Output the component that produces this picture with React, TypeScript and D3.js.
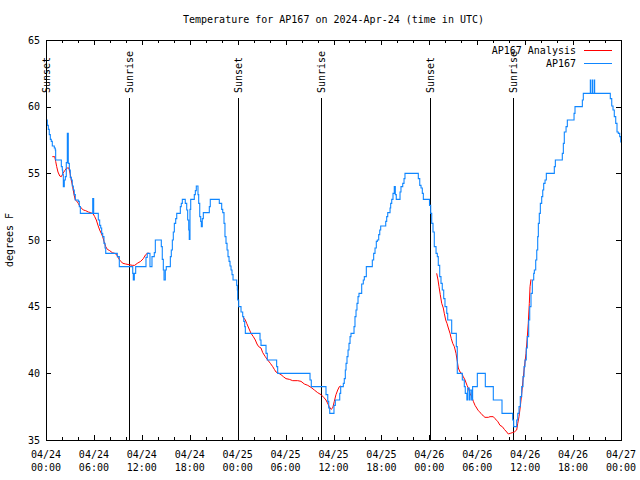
import React from "react";
import * as d3 from "d3";

const startMs = Date.UTC(2024, 3, 24, 0, 0);
const spanHours = 72;

const titleText = "Temperature for AP167 on 2024-Apr-24 (time in UTC)";
const yAxisLabel = "degrees F";
const legendNames = ["AP167 Analysis", "AP167"];
const seriesColors = ["#ff0000", "#0f86ff"];
const yTicks = [35, 40, 45, 50, 55, 60, 65];

const eventNames = ["Sunset", "Sunrise", "Sunset", "Sunrise", "Sunset", "Sunrise"];
const eventHours = [0.03, 10.4, 24.04, 34.44, 48.08, 58.48];

// observed station temperature: [hours since 04/24 00:00 UTC, degF]
const observed: [number, number][] = [
  [0, 59.0], [0.16, 58.6], [0.29, 58.3], [0.41, 57.9], [0.54, 57.55], [0.66, 57.4], [0.79, 57.05],
  [1.04, 56.9], [1.16, 56.75], [1.21, 56.0], [1.92, 55.5], [2.04, 55.25], [2.09, 54.9], [2.17, 54.0],
  [2.29, 54.5], [2.42, 54.75], [2.54, 55.8], [2.67, 58.0], [2.79, 55.75], [2.92, 55.25], [3.04, 54.7],
  [3.17, 54.5], [3.29, 54.05], [3.42, 53.75], [3.54, 53.4], [3.67, 53.0], [4.04, 52.9], [4.17, 52.5],
  [4.3, 52.0], [5.85, 53.1], [5.97, 52.0], [6.55, 51.5], [6.72, 51.1], [6.85, 50.9], [6.97, 50.5],
  [7.1, 50.25], [7.26, 49.75], [7.39, 49.4], [7.48, 49.0], [8.93, 48.75], [9.18, 48.0], [10.86, 47.5],
  [10.93, 47.0], [11.06, 47.5], [11.23, 48.0], [12.52, 48.7], [12.68, 49.0], [13.02, 48.0],
  [13.27, 48.75], [13.56, 49.05], [13.69, 50.0], [14.44, 49.5], [14.56, 48.55], [14.69, 47.75],
  [14.78, 47.0], [14.94, 47.75], [15.06, 48.0], [15.57, 48.75], [15.69, 49.25], [15.82, 50.0], [15.94, 50.6],
  [16.07, 51.25], [16.24, 51.6], [16.37, 52.0], [16.82, 52.5], [16.94, 52.75], [17.07, 53.05], [17.44, 52.75],
  [17.62, 52.25], [17.74, 51.5], [17.87, 50.75], [17.94, 50.05], [18.03, 52.3], [18.12, 53.05], [18.57, 53.4],
  [18.7, 53.7], [18.82, 54.05], [19.03, 53.4], [19.12, 52.75], [19.25, 51.75], [19.37, 51.4], [19.45, 51.0],
  [19.57, 51.6], [19.7, 52.05], [20.45, 52.5], [20.57, 53.05], [21.7, 52.75], [22.0, 52.3], [22.13, 52.05],
  [22.29, 51.25], [22.41, 50.25], [22.54, 49.75], [22.67, 49.25], [22.79, 48.75], [22.92, 48.4], [23.04, 48.05],
  [23.17, 47.75], [23.29, 47.4], [23.42, 47.0], [23.88, 46.6], [23.96, 46.25], [24.0, 45.5], [24.13, 45.0],
  [24.42, 44.6], [24.63, 44.25], [24.76, 43.9], [24.88, 43.5], [24.96, 43.0], [26.8, 42.5], [26.92, 42.1],
  [27.55, 41.5], [27.71, 41.0], [28.88, 40.5], [29.01, 40.0], [33.06, 39.5], [33.22, 39.0], [35.06, 38.4],
  [35.28, 37.9], [35.4, 37.4], [35.53, 37.0], [36.06, 37.6], [36.23, 38.0], [36.78, 38.5], [36.9, 39.0],
  [37.23, 39.25], [37.35, 39.6], [37.48, 40.25], [37.57, 40.75], [37.69, 41.25], [37.82, 41.75], [37.94, 42.25],
  [38.07, 42.75], [38.19, 43.0], [38.57, 43.5], [38.69, 44.25], [38.82, 44.75], [38.94, 45.25], [39.07, 45.75],
  [39.19, 46.0], [39.53, 46.7], [39.73, 47.0], [39.86, 47.25], [40.11, 48.0], [40.86, 48.5], [41.03, 49.0],
  [41.2, 49.4], [41.36, 49.9], [41.49, 50.0], [41.66, 50.4], [41.79, 50.75], [41.91, 51.05], [42.54, 51.4],
  [42.66, 51.75], [42.79, 52.05], [43.08, 52.4], [43.16, 52.75], [43.29, 53.05], [43.45, 53.5], [43.61, 54.0],
  [43.74, 53.4], [43.86, 53.05], [44.33, 53.6], [44.45, 54.0], [44.67, 54.25], [44.83, 54.6], [44.95, 55.0],
  [46.62, 54.6], [46.8, 54.1], [46.96, 53.9], [47.12, 53.5], [47.25, 53.05], [48.02, 52.6], [48.17, 52.0],
  [48.3, 51.25], [48.46, 50.6], [48.62, 49.5], [48.84, 49.0], [49.0, 48.75], [49.12, 48.1], [49.3, 47.25],
  [49.46, 46.75], [49.62, 46.25], [49.8, 45.6], [49.96, 45.0], [50.18, 44.5], [50.3, 44.0], [50.8, 43.0],
  [51.38, 42.0], [51.5, 40.0], [52.13, 39.5], [52.38, 39.0], [52.5, 38.5], [52.7, 38.0], [52.8, 38.9],
  [53.0, 38.0], [53.1, 38.75], [53.3, 38.0], [53.42, 39.0], [54.01, 40.0], [55.01, 39.0], [56.01, 38.0],
  [57.1, 37.0], [58.44, 36.5], [58.56, 36.0], [58.94, 36.5], [59.07, 37.0], [59.23, 37.5], [59.39, 38.25],
  [59.57, 39.0], [59.73, 39.75], [59.86, 40.5], [59.98, 41.0], [60.14, 41.9], [60.27, 42.75], [60.44, 44.0],
  [60.57, 45.0], [60.73, 46.0], [60.9, 47.0], [61.07, 47.5], [61.15, 47.75], [61.32, 48.5], [61.45, 49.25],
  [61.57, 50.25], [61.65, 51.25], [61.77, 52.0], [61.9, 52.75], [62.07, 53.25], [62.2, 53.75], [62.32, 54.25],
  [62.49, 54.5], [62.65, 55.0], [63.65, 55.5], [63.78, 56.0], [64.65, 56.5], [64.78, 57.25], [64.9, 58.1],
  [65.12, 58.5], [65.28, 59.0], [66.12, 59.5], [66.24, 60.0], [67.16, 60.5], [67.28, 61.0], [68.16, 62.0],
  [68.2, 61.0], [68.41, 62.0], [68.45, 61.0], [68.66, 62.0], [68.7, 61.0], [70.66, 60.6], [70.84, 60.05],
  [71.0, 59.75], [71.16, 59.25], [71.34, 58.75], [71.5, 58.1], [71.66, 58.0], [71.84, 57.75], [71.97, 57.4],
  [72.0, 57.3],
];

// analysis temperature, three overnight segments
const analysisNight1: [number, number][] = [
  [0.79, 56.25], [1.09, 56.25], [1.21, 55.9], [1.34, 55.5], [1.5, 55.1], [1.72, 54.8], [1.92, 54.75],
  [2.13, 55.0], [2.34, 55.2], [2.59, 55.4], [2.88, 55.4], [3.01, 55.0], [3.17, 54.5], [3.34, 54.0],
  [3.51, 53.4], [3.67, 53.0], [3.88, 52.9], [4.04, 52.75], [4.22, 52.55], [4.42, 52.4], [4.67, 52.25],
  [4.97, 52.2], [5.3, 52.1], [5.6, 52.05], [5.92, 51.95], [6.1, 51.75], [6.3, 51.5], [6.51, 51.1],
  [6.72, 50.75], [6.92, 50.5], [7.1, 50.25], [7.26, 49.9], [7.48, 49.5], [7.68, 49.3], [7.98, 49.2],
  [8.3, 49.05], [8.6, 49.0], [8.85, 48.9], [9.1, 48.6], [9.35, 48.4], [9.64, 48.25], [9.98, 48.2],
  [10.39, 48.15], [10.81, 48.1], [11.11, 48.1], [11.43, 48.25], [11.86, 48.4], [12.18, 48.6], [12.48, 48.9],
  [12.81, 49.05],
];
const analysisNight2: [number, number][] = [
  [24.71, 44.2], [24.96, 44.0], [25.13, 43.75], [25.38, 43.4], [25.67, 43.0], [25.96, 42.75], [26.21, 42.5],
  [26.42, 42.2], [26.63, 42.0], [26.92, 41.9], [27.14, 41.55], [27.46, 41.25], [27.76, 41.0], [28.09, 40.75],
  [28.39, 40.5], [28.59, 40.3], [28.8, 40.1], [29.14, 40.0], [29.43, 39.9], [29.72, 39.75], [30.05, 39.6],
  [30.47, 39.55], [30.89, 39.45], [31.52, 39.45], [31.93, 39.4], [32.35, 39.2], [32.77, 39.1], [33.18, 38.95],
  [33.6, 38.75], [34.02, 38.55], [34.44, 38.4], [34.77, 38.2], [35.06, 38.0], [35.31, 37.7], [35.47, 37.5],
  [35.69, 37.3], [35.9, 37.4], [36.1, 37.9], [36.31, 38.4], [36.53, 38.75], [36.73, 39.0], [36.9, 39.05],
];
const analysisNight3: [number, number][] = [
  [48.92, 47.5], [49.09, 47.0], [49.21, 46.5], [49.37, 45.9], [49.55, 45.25], [49.75, 44.9], [49.87, 44.5],
  [50.05, 44.0], [50.21, 43.75], [50.38, 43.4], [50.59, 43.0], [50.75, 42.6], [50.93, 42.25], [51.13, 42.0],
  [51.34, 41.5], [51.5, 40.9], [51.63, 40.4], [51.84, 40.1], [52.05, 40.0], [52.25, 39.75], [52.47, 39.5],
  [52.72, 39.1], [52.88, 38.9], [53.09, 38.5], [53.31, 38.25], [53.51, 37.9], [53.72, 37.6], [53.93, 37.4],
  [54.13, 37.2], [54.47, 37.0], [54.76, 36.8], [54.97, 36.7], [55.39, 36.7], [55.6, 36.75], [56.01, 36.75],
  [56.22, 36.6], [56.56, 36.4], [56.85, 36.1], [57.14, 36.0], [57.39, 35.8], [57.69, 35.6], [57.89, 35.45],
  [58.14, 35.5], [58.39, 35.55], [58.64, 35.6], [58.94, 35.75], [59.07, 36.25], [59.23, 36.75], [59.39, 37.5],
  [59.57, 38.5], [59.73, 39.5], [59.89, 40.4], [60.11, 41.5], [60.27, 42.75], [60.39, 43.75], [60.52, 45.25],
  [60.61, 46.5], [60.73, 47.05],
];

const FONT = "'DejaVu Sans Mono', monospace";

export default function App() {
  const left = 46, right = 621, top = 40, bottom = 440;
  const toDate = (h: number) => new Date(startMs + h * 3600e3);
  const x = d3.scaleUtc().domain([toDate(0), toDate(spanHours)]).range([left, right]);
  const y = d3.scaleLinear().domain([35, 65]).range([bottom, top]);

  const stepLine = d3.line<[number, number]>()
    .x((d) => x(toDate(d[0])))
    .y((d) => y(d[1]))
    .curve(d3.curveStepAfter);
  const smoothLine = d3.line<[number, number]>()
    .x((d) => x(toDate(d[0])))
    .y((d) => y(d[1]));

  const majorTicks = x.ticks(d3.utcHour.every(6)!);
  const minorTicks = x.ticks(d3.utcHour.every(2)!).filter((d) => d.getUTCHours() % 6 !== 0);
  const fmtDay = d3.utcFormat("%m/%d");
  const fmtTime = d3.utcFormat("%H:%M");

  const crisp = (v: number) => Math.round(v) + 0.5;

  return (
    <svg width={640} height={480} style={{ position: "absolute", left: 0, top: 0, background: "#fff" }}
      fontFamily={FONT} fontSize={10}>
      <rect x={0} y={0} width={640} height={480} fill="#fff" />
      <text x={(left + right) / 2} y={23} textAnchor="middle" fill="#000">{titleText}</text>
      <text transform={`translate(13,240) rotate(-90)`} textAnchor="middle" fill="#000">{yAxisLabel}</text>

      {/* event lines */}
      {eventHours.map((h, i) => {
        const ex = crisp(x(toDate(h)));
        return (
          <g key={"ev" + i}>
            <line x1={ex} x2={ex} y1={98} y2={bottom} stroke="#000" strokeWidth={1} shapeRendering="crispEdges" />
            <text transform={`translate(${ex},93) rotate(-90)`} dy="0.35em" fill="#000">{eventNames[i]}</text>
          </g>
        );
      })}

      {/* series */}
      {[analysisNight1, analysisNight2, analysisNight3].map((seg, i) => (
        <path key={"a" + i} d={smoothLine(seg) || ""} fill="none" stroke={seriesColors[0]} strokeWidth={1} />
      ))}
      <path d={stepLine(observed) || ""} fill="none" stroke={seriesColors[1]} strokeWidth={1.1} />

      {/* axes frame */}
      <rect x={left + 0.5} y={top + 0.5} width={right - left} height={bottom - top} fill="none" stroke="#000"
        strokeWidth={1} shapeRendering="crispEdges" />

      {yTicks.map((t) => {
        const ty = crisp(y(t));
        return (
          <g key={"y" + t}>
            <line x1={left} x2={left + 5} y1={ty} y2={ty} stroke="#000" shapeRendering="crispEdges" />
            <line x1={right - 5} x2={right} y1={ty} y2={ty} stroke="#000" shapeRendering="crispEdges" />
            <text x={40} y={y(t)} dy="0.35em" textAnchor="end" fill="#000">{t}</text>
          </g>
        );
      })}

      {majorTicks.map((d, i) => {
        const tx = crisp(x(d));
        return (
          <g key={"mx" + i}>
            <line x1={tx} x2={tx} y1={bottom} y2={bottom - 5} stroke="#000" shapeRendering="crispEdges" />
            <line x1={tx} x2={tx} y1={top} y2={top + 5} stroke="#000" shapeRendering="crispEdges" />
            <text x={x(d)} y={458} textAnchor="middle" fill="#000">{fmtDay(d)}</text>
            <text x={x(d)} y={471} textAnchor="middle" fill="#000">{fmtTime(d)}</text>
          </g>
        );
      })}
      {minorTicks.map((d, i) => {
        const tx = crisp(x(d));
        return (
          <g key={"mn" + i}>
            <line x1={tx} x2={tx} y1={bottom} y2={bottom - 3} stroke="#000" shapeRendering="crispEdges" />
            <line x1={tx} x2={tx} y1={top} y2={top + 3} stroke="#000" shapeRendering="crispEdges" />
          </g>
        );
      })}

      {/* legend */}
      {legendNames.map((name, i) => (
        <g key={"lg" + i}>
          <text x={576} y={50 + i * 13} dy="0.35em" textAnchor="end" fill="#000">{name}</text>
          <line x1={584} x2={612} y1={50.5 + i * 13} y2={50.5 + i * 13} stroke={seriesColors[i]} strokeWidth={1}
            shapeRendering="crispEdges" />
        </g>
      ))}
    </svg>
  );
}
